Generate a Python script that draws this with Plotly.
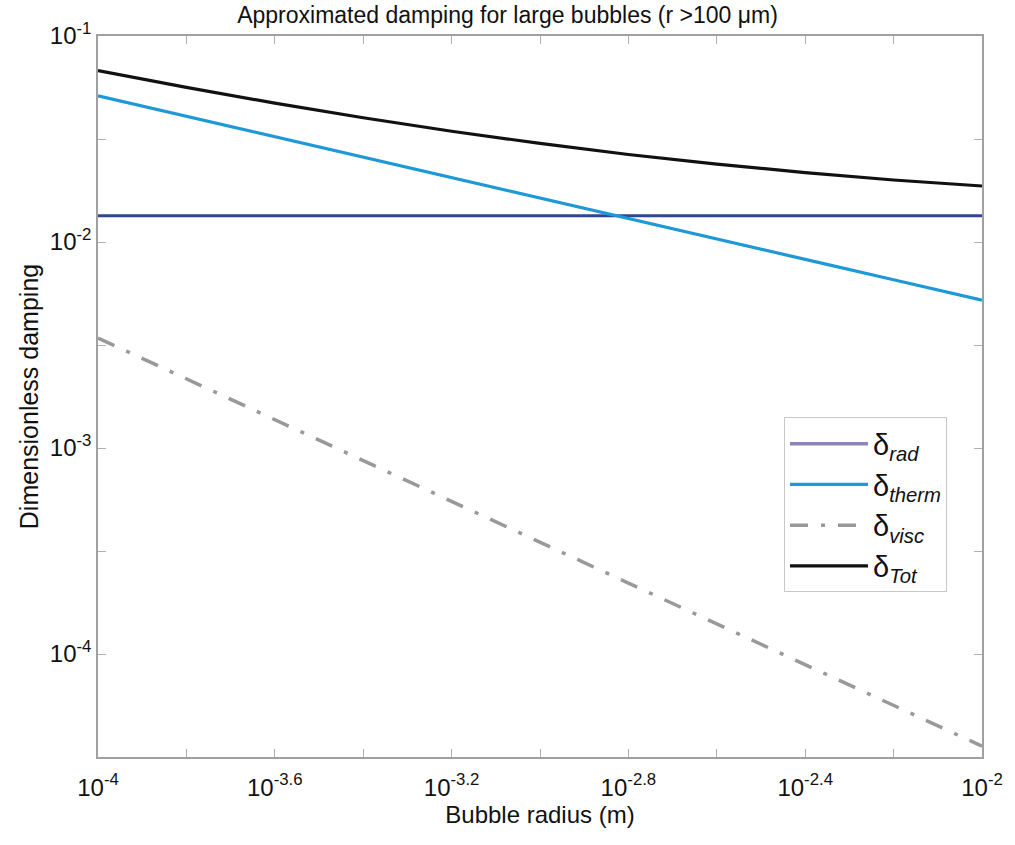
import plotly.graph_objects as go

# Bubble radius (m)
radius = [1e-4, 10**-3.8, 10**-3.6, 10**-3.4, 10**-3.2, 1e-3,
          10**-2.8, 10**-2.6, 10**-2.4, 10**-2.2, 1e-2]
# Damping components
delta_rad = [0.0134] * 11
delta_therm = [0.0512, 0.0407, 0.0324, 0.0258, 0.0205, 0.0163,
               0.0130, 0.01035, 0.00824, 0.00656, 0.00522]
delta_visc = [3.42e-3, 2.17e-3, 1.37e-3, 8.71e-4, 5.52e-4, 3.49e-4,
              2.21e-4, 1.40e-4, 8.89e-5, 5.64e-5, 3.57e-5]
delta_tot = [0.0680, 0.0563, 0.0472, 0.0401, 0.0345, 0.0301,
             0.0266, 0.0239, 0.0217, 0.0200, 0.0187]

x_tickvals = [1e-4, 10**-3.6, 10**-3.2, 10**-2.8, 10**-2.4, 1e-2]
x_ticktext = ["10<sup>-4</sup>", "10<sup>-3.6</sup>", "10<sup>-3.2</sup>",
              "10<sup>-2.8</sup>", "10<sup>-2.4</sup>", "10<sup>-2</sup>"]
x_minor = [10**-3.8, 10**-3.4, 1e-3, 10**-2.6, 10**-2.2]
y_tickvals = [1e-4, 1e-3, 1e-2, 1e-1]
y_ticktext = ["10<sup>-4</sup>", "10<sup>-3</sup>", "10<sup>-2</sup>", "10<sup>-1</sup>"]
y_minor = [10**-4.5, 10**-3.5, 10**-2.5, 10**-1.5]

FONT = "Liberation Sans, Arial, sans-serif"

fig = go.Figure()
fig.add_trace(go.Scatter(x=radius, y=delta_rad, mode="lines", showlegend=False,
                         line=dict(color="#2E4790", width=3)))
fig.add_trace(go.Scatter(x=[None], y=[None], mode="lines", name="δ<sub><i>rad</i></sub>",
                         line=dict(color="#8C84BC", width=3.5)))
fig.add_trace(go.Scatter(x=radius, y=delta_therm, mode="lines", name="δ<sub><i>therm</i></sub>",
                         line=dict(color="#1E98D6", width=3.2)))
fig.add_trace(go.Scatter(x=radius, y=delta_visc, mode="lines", name="δ<sub><i>visc</i></sub>",
                         line=dict(color="#999999", width=3.5, dash="18px,13px,4px,13px")))
fig.add_trace(go.Scatter(x=radius, y=delta_tot, mode="lines", name="δ<sub><i>Tot</i></sub>",
                         line=dict(color="#111111", width=3.2)))

axis_common = dict(showgrid=False, zeroline=False, showline=True, linecolor="#a0a0a0",
                   linewidth=1.5, mirror="ticks", ticks="inside", ticklen=8,
                   tickcolor="#b0b0b0", tickwidth=1,
                   tickfont=dict(family=FONT, size=24, color="#111111"))

fig.update_xaxes(type="log", range=[-4, -2], tickmode="array",
                 tickvals=x_tickvals, ticktext=x_ticktext, ticklabelstandoff=8,
                 minor=dict(tickmode="array", tickvals=x_minor, ticks="inside", ticklen=8,
                            tickcolor="#b0b0b0", tickwidth=1, showgrid=False),
                 title=dict(text="Bubble radius (m)", font=dict(family=FONT, size=24, color="#111111"),
                            standoff=0),
                 **axis_common)
fig.update_yaxes(type="log", range=[-4.5, -1], tickmode="array",
                 tickvals=y_tickvals, ticktext=y_ticktext,
                 minor=dict(tickmode="array", tickvals=y_minor, ticks="inside", ticklen=8,
                            tickcolor="#b0b0b0", tickwidth=1, showgrid=False),
                 title=dict(text="Dimensionless damping", font=dict(family=FONT, size=25, color="#111111"),
                            standoff=4),
                 **axis_common)

fig.update_layout(
    width=1015, height=845,
    margin=dict(l=98, r=28, t=36, b=88),
    paper_bgcolor="white", plot_bgcolor="white",
    title=dict(text="Approximated damping for large bubbles (r >100 μm)",
               font=dict(family=FONT, size=23, color="#111111"),
               x=0.5, xanchor="center", y=0.982, yanchor="middle"),
    legend=dict(x=0.776, y=0.471, xanchor="left", yanchor="top",
                bgcolor="white", bordercolor="#c8c8c8", borderwidth=1,
                font=dict(family=FONT, size=29, color="#111111"),
                itemwidth=78, tracegroupgap=0),
)

fig.write_html("out.html")
